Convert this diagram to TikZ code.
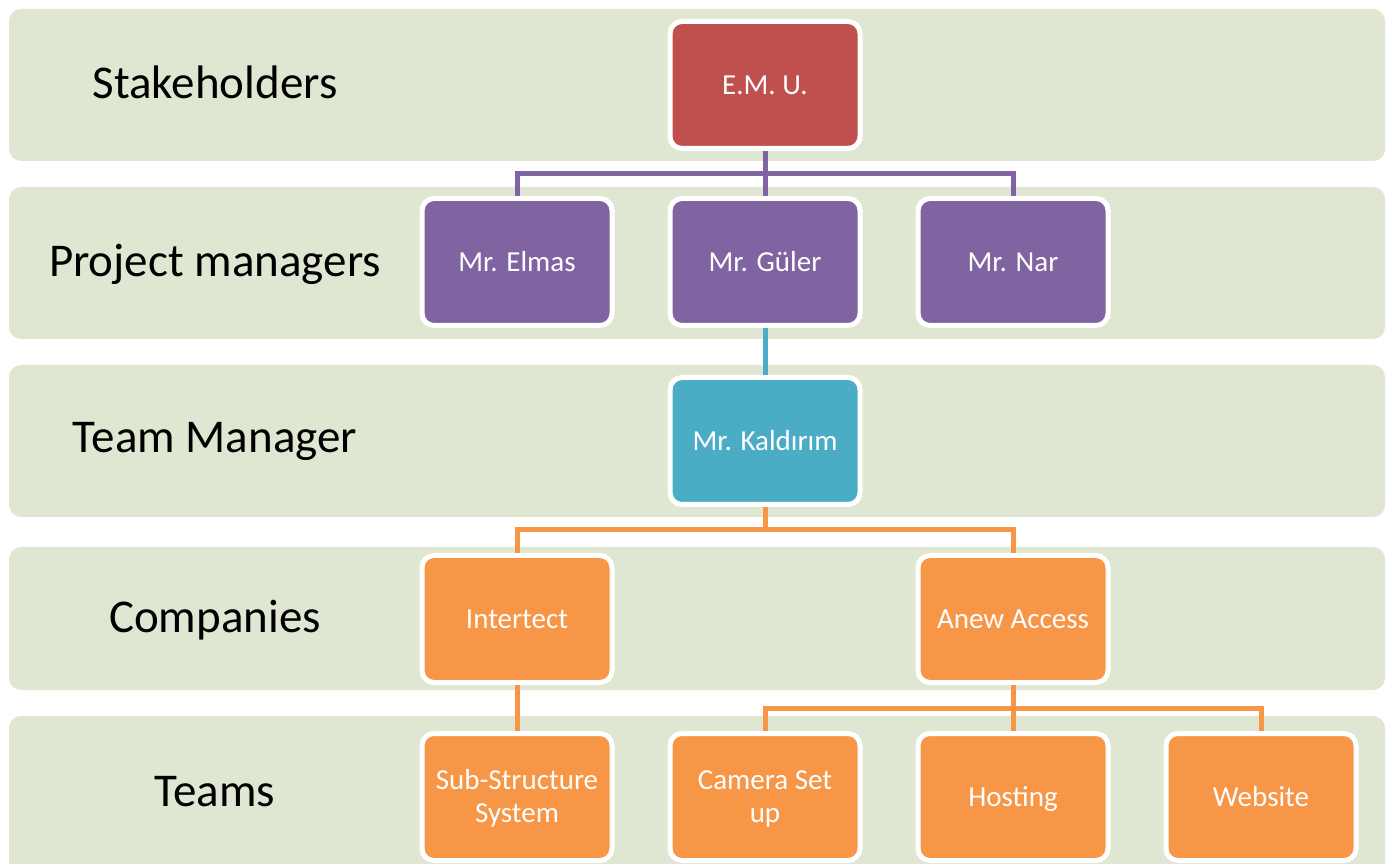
\documentclass[tikz,border=0pt]{standalone}
\usepackage{fontspec}
\setmainfont{Carlito}
\usepackage{tikz}
\usetikzlibrary{positioning}
\usetikzlibrary{calc}
\definecolor{bandgreen}{HTML}{DFE7D2}
\definecolor{emured}{HTML}{C0504D}
\definecolor{pmpurple}{HTML}{8064A2}
\definecolor{tmteal}{HTML}{4BACC6}
\definecolor{coorange}{HTML}{F79646}

\begin{document}
\begin{tikzpicture}
[
x=1pt, y=1pt,
band-a/.style={fill=bandgreen, rounded corners=12pt},
label-a/.style={black, anchor=base, font=\fontsize{47}{56}\selectfont},
unit-a/.style={rectangle, rounded corners=12pt, draw=white, line width=5pt,
               minimum width=190pt, minimum height=127pt, inner sep=0pt,
               text=white, align=center, text height=18.5pt, text depth=0pt,
               font=\fontsize{29}{33}\selectfont},
link-a/.style={line width=5pt},
]
\useasboundingbox (0,0) rectangle (1390,863);
% bands
\fill [band-a] (9,702) rectangle (1385,854);
\fill [band-a] (9,524) rectangle (1385,676);
\fill [band-a] (9,346) rectangle (1385,498);
\fill [band-a] (9,173) rectangle (1385,316);
\fill [band-a] (9,-20) rectangle (1385,147);
\node (lstake) [label-a] at (215,764) {Stakeholders};
\node (lpm)    [label-a] at (215,586) {Project managers};
\node (ltm)    [label-a] at (215,410) {Team Manager};
\node (lcomp)  [label-a] at (215,230) {Companies};
\node (lteams) [label-a] at (215,57)  {Teams};
% boxes
\node (emu)       [unit-a, fill=emured] at (765,778)                     {E.M. U.};
\node (guler)     [unit-a, fill=pmpurple, below = 45pt of emu]           {Mr. Güler};
\node (elmas)     [unit-a, fill=pmpurple, left  = 53pt of guler]         {Mr. Elmas};
\node (nar)       [unit-a, fill=pmpurple, right = 53pt of guler]         {Mr. Nar};
\node (kald)      [unit-a, fill=tmteal,   below = 47pt of guler]         {Mr. Kaldırım};
\node (intertect) [unit-a, fill=coorange, below left = 46pt and 53pt of kald] {Intertect};
\node (anew)      [unit-a, fill=coorange, right = 301pt of intertect]    {Anew Access};
\node (sub)       [unit-a, fill=coorange, below = 46pt of intertect, text height=51.5pt] {Sub-Structure\\System};
\node (hosting)   [unit-a, fill=coorange, below = 46pt of anew]          {Hosting};
\node (camera)    [unit-a, fill=coorange, left  = 53pt of hosting, text height=51.5pt] {Camera Set\\up};
\node (website)   [unit-a, fill=coorange, right = 53pt of hosting]       {Website};
% links
\coordinate (pbar) at ($(emu.south)!.5!(guler.north)$);
\draw [link-a, pmpurple] (emu.south) -- (guler.north);
\draw [link-a, pmpurple] (elmas.north) |- (pbar) -| (nar.north);
\draw [link-a, tmteal] (guler.south) -- (kald.north);
\coordinate (cbar) at ($(kald.south)!.5!(kald.south |- intertect.north)$);
\draw [link-a, coorange] (kald.south) -- (cbar);
\draw [link-a, coorange] (intertect.north) |- (cbar) -| (anew.north);
\draw [link-a, coorange] (intertect.south) -- (sub.north);
\coordinate (tbar) at ($(anew.south)!.5!(hosting.north)$);
\draw [link-a, coorange] (anew.south) -- (hosting.north);
\draw [link-a, coorange] (camera.north) |- (tbar) -| (website.north);
\end{tikzpicture}
\end{document}
